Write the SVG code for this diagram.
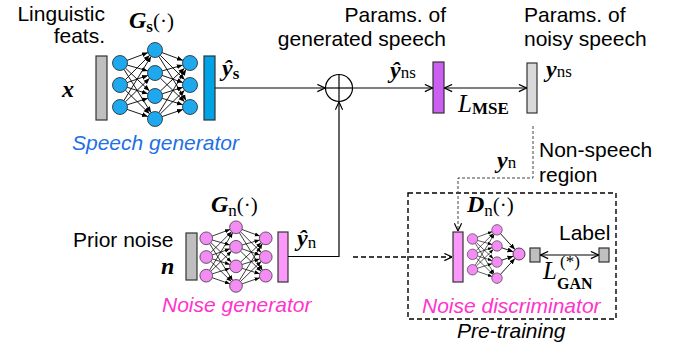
<svg xmlns="http://www.w3.org/2000/svg" xmlns:xlink="http://www.w3.org/1999/xlink" width="679" height="353" viewBox="0 0 679 353">
<style>
.t{font-family:"Liberation Sans",Arial,sans-serif;font-size:21px;fill:#000}
.ti{font-family:"Liberation Sans",Arial,sans-serif;font-size:21px;font-style:italic}
.m{font-family:"Liberation Serif","Times New Roman",serif;font-weight:bold;font-style:italic;font-size:24px;fill:#000}
.L{font-family:"Liberation Serif","Times New Roman",serif;font-weight:normal;font-style:italic;font-size:25px;fill:#000}
.sub{font-family:"Liberation Serif","Times New Roman",serif;font-style:normal;font-weight:normal;font-size:17px}
.subb{font-family:"Liberation Serif","Times New Roman",serif;font-style:normal;font-weight:bold;font-size:17px}
.par{font-family:"Liberation Serif","Times New Roman",serif;font-style:normal;font-weight:normal;font-size:21px}
.ln{stroke:#000;stroke-width:1.2;fill:none}
.dash{stroke:#000;stroke-width:1.4;fill:none;stroke-dasharray:5 3}
.nl{stroke:#000;stroke-width:0.9;marker-end:url(#ah)}
.bar{stroke:#333;stroke-width:1.2}
</style>
<defs>
<marker id="ah" viewBox="0 0 10 10" refX="10" refY="5" markerWidth="6" markerHeight="6" markerUnits="userSpaceOnUse" orient="auto"><path d="M0,1 L10,5 L0,9 Z" fill="#000"/></marker>
<marker id="oa" viewBox="0 0 10 10" refX="9.5" refY="5" markerWidth="9" markerHeight="9" markerUnits="userSpaceOnUse" orient="auto-start-reverse"><path d="M1,1 L9.5,5 L1,9" fill="none" stroke="#000" stroke-width="1.3"/></marker>
<g id="l1">
<line class="nl" x1="127.0" y1="60.4" x2="148.0" y2="52.6"/>
<line class="nl" x1="127.2" y1="65.1" x2="147.8" y2="70.9"/>
<line class="nl" x1="125.5" y1="68.2" x2="149.5" y2="90.9"/>
<line class="nl" x1="124.0" y1="69.4" x2="151.0" y2="112.6"/>
<line class="nl" x1="125.3" y1="79.7" x2="149.7" y2="55.3"/>
<line class="nl" x1="127.1" y1="82.6" x2="147.9" y2="75.4"/>
<line class="nl" x1="127.2" y1="87.3" x2="147.8" y2="93.8"/>
<line class="nl" x1="125.4" y1="90.2" x2="149.6" y2="113.8"/>
<line class="nl" x1="123.9" y1="100.6" x2="151.1" y2="56.4"/>
<line class="nl" x1="125.4" y1="101.8" x2="149.6" y2="78.2"/>
<line class="nl" x1="127.2" y1="104.8" x2="147.8" y2="98.3"/>
<line class="nl" x1="127.1" y1="109.4" x2="147.9" y2="116.6"/>
</g>
<g id="l2">
<line class="nl" x1="162.0" y1="52.6" x2="183.0" y2="60.4"/>
<line class="nl" x1="160.3" y1="55.3" x2="184.7" y2="79.7"/>
<line class="nl" x1="158.9" y1="56.4" x2="186.1" y2="100.6"/>
<line class="nl" x1="162.2" y1="70.9" x2="182.8" y2="65.1"/>
<line class="nl" x1="162.1" y1="75.4" x2="182.9" y2="82.6"/>
<line class="nl" x1="160.4" y1="78.2" x2="184.6" y2="101.8"/>
<line class="nl" x1="160.5" y1="90.9" x2="184.5" y2="68.2"/>
<line class="nl" x1="162.2" y1="93.8" x2="182.8" y2="87.3"/>
<line class="nl" x1="162.2" y1="98.3" x2="182.8" y2="104.8"/>
<line class="nl" x1="159.0" y1="112.6" x2="186.0" y2="69.4"/>
<line class="nl" x1="160.4" y1="113.8" x2="184.6" y2="90.2"/>
<line class="nl" x1="162.1" y1="116.6" x2="182.9" y2="109.4"/>
</g>
<g id="cin" stroke="#222" stroke-width="0.8"><circle cx="120" cy="63" r="7.5"/><circle cx="120" cy="85" r="7.5"/><circle cx="120" cy="107" r="7.5"/></g>
<g id="cmid" stroke="#222" stroke-width="0.8"><circle cx="155" cy="50" r="7.5"/><circle cx="155" cy="73" r="7.5"/><circle cx="155" cy="96" r="7.5"/><circle cx="155" cy="119" r="7.5"/></g>
<g id="cout" stroke="#222" stroke-width="0.8"><circle cx="190" cy="63" r="7.5"/><circle cx="190" cy="85" r="7.5"/><circle cx="190" cy="107" r="7.5"/></g>
</defs>

<g id="speech-generator">
<text class="t" x="105" y="21" text-anchor="end">Linguistic</text>
<text class="t" x="105" y="43" text-anchor="end">feats.</text>
<text class="m" x="62" y="97">x</text>
<rect class="bar" x="96" y="56" width="11" height="64" fill="#bfbfbf"/>
<g fill="#1ea9ee">
<use xlink:href="#l1"/><use xlink:href="#l2"/>
<use xlink:href="#cin"/><use xlink:href="#cmid"/><use xlink:href="#cout"/>
</g>
<rect class="bar" x="204" y="56" width="11" height="64" fill="#00a3e4"/>
<text class="m" x="129" y="28">G<tspan class="subb" dy="4">s</tspan><tspan class="par" dy="-4">(·)</tspan></text>
<text class="m" x="222" y="76">ŷ<tspan class="subb" dy="3">s</tspan></text>
<text class="ti" x="72" y="150" fill="#1f6fe6">Speech generator</text>
</g>

<g id="noise-generator">
<text class="t" x="73" y="247">Prior noise</text>
<text class="m" x="161" y="274">n</text>
<rect class="bar" x="186" y="233" width="11" height="47" fill="#bfbfbf"/>
<g fill="#f38cf3" transform="translate(236,257) scale(0.85) translate(-155,-85)">
<use xlink:href="#l1"/><use xlink:href="#l2"/>
<use xlink:href="#cin"/><use xlink:href="#cmid"/><use xlink:href="#cout"/>
</g>
<rect class="bar" x="278" y="232" width="10" height="50" fill="#fa99fa"/>
<text class="m" x="211" y="212">G<tspan class="sub" dy="4">n</tspan><tspan class="par" dy="-4">(·)</tspan></text>
<text class="m" x="297" y="246">ŷ<tspan class="sub" dy="2">n</tspan></text>
<text class="ti" x="162" y="312" fill="#ff33cc">Noise generator</text>
</g>

<g id="sum">
<circle cx="339" cy="88" r="13.5" fill="#fff" stroke="#000" stroke-width="1.2"/>
<line class="ln" x1="325.5" y1="88" x2="352.5" y2="88"/>
<line class="ln" x1="339" y1="74.5" x2="339" y2="101.5"/>
</g>

<g id="generated-params">
<text class="t" x="446" y="22" text-anchor="end">Params. of</text>
<text class="t" x="446" y="46" text-anchor="end">generated speech</text>
<rect class="bar" x="433" y="62" width="11" height="51" fill="#cc5ff2"/>
<text class="m" x="390" y="78">ŷ<tspan class="sub">ns</tspan></text>
</g>

<g id="noisy-params">
<text class="t" x="524" y="22">Params. of</text>
<text class="t" x="524" y="46">noisy speech</text>
<rect class="bar" x="527" y="63" width="10" height="50" fill="#d9d9d9"/>
<text class="m" x="546" y="77">y<tspan class="sub">ns</tspan></text>
</g>

<g id="noise-discriminator">
<rect class="dash" x="408" y="193" width="208" height="126"/>
<rect class="bar" x="453" y="232" width="10" height="50" fill="#fa99fa"/>
<g fill="#f38cf3" transform="translate(497,254) scale(0.7) translate(-155,-84.5)">
<use xlink:href="#l1"/>
<use xlink:href="#cin"/><use xlink:href="#cmid"/>
</g>
<line class="nl" x1="500.5" y1="233.7" x2="515.0" y2="249.6"/>
<line class="nl" x1="501.9" y1="247.8" x2="513.4" y2="251.9"/>
<line class="nl" x1="501.9" y1="260.2" x2="513.4" y2="256.1"/>
<line class="nl" x1="500.5" y1="274.3" x2="515.0" y2="258.4"/>
<circle cx="519" cy="254" r="6" fill="#f38cf3" stroke="#222" stroke-width="0.8"/>
<text class="m" x="467" y="212">D<tspan class="sub" dy="4">n</tspan><tspan class="par" dy="-4">(·)</tspan></text>
<text class="ti" x="422" y="313" fill="#ff33cc">Noise discriminator</text>
<text class="ti" x="457" y="338" fill="#000">Pre-training</text>
</g>

<g id="disc-output">
<rect class="bar" x="530" y="248" width="10" height="14" fill="#bfbfbf"/>
</g>
<g id="label">
<text class="t" x="559" y="240">Label</text>
<rect class="bar" x="599" y="248" width="10" height="14" fill="#bfbfbf"/>
</g>

<g id="connectors">
<line class="ln" x1="215" y1="88" x2="325" y2="88" marker-end="url(#oa)"/>
<line class="ln" x1="352.5" y1="88" x2="432.5" y2="88" marker-end="url(#oa)"/>
<line class="ln" x1="444.5" y1="88" x2="526.5" y2="88" marker-start="url(#oa)" marker-end="url(#oa)"/>
<polyline class="ln" points="288,256.5 339,256.5 339,102" marker-end="url(#oa)"/>
<line class="dash" x1="353" y1="257" x2="452" y2="257" marker-end="url(#oa)"/>
<polyline points="533,126 533,178 458,178 458,231" fill="none" stroke="#444" stroke-width="1" stroke-dasharray="3 2" marker-end="url(#oa)"/>
<line class="ln" x1="540.5" y1="255" x2="598.5" y2="255" marker-start="url(#oa)" marker-end="url(#oa)"/>
<text class="L" x="458" y="112">L<tspan class="subb" dy="2">MSE</tspan></text>
<text class="m" x="497" y="168">y<tspan class="sub">n</tspan></text>
<text class="t" x="539" y="157">Non-speech</text>
<text class="t" x="539" y="182">region</text>
<text class="L" x="543" y="279">L<tspan class="sub" x="560" y="267">(*)</tspan><tspan class="subb" x="557" y="289" style="font-size:16px">GAN</tspan></text>
</g>
</svg>
